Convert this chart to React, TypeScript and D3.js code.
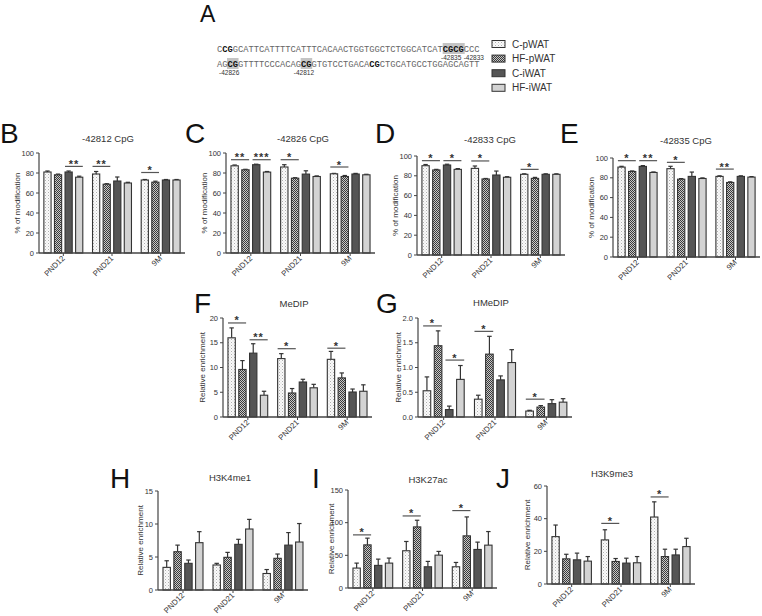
import React from "react";
import * as d3 from "d3";

const groups = ["PND12", "PND21", "9M"];
const seriesNames = ["C-pWAT", "HF-pWAT", "C-iWAT", "HF-iWAT"];

// -42812 CpG
const b42812Mean = [[81, 78.2, 81, 75.8], [79, 68.8, 72, 70], [73, 70.8, 73, 73]];
const b42812Err = [[1, 0.7, 1, 1], [2.5, 0.5, 4, 0.7], [0.5, 1, 0.5, 0.5]];
// -42826 CpG
const c42826Mean = [[87.2, 83.2, 88.3, 80.9], [86, 74.8, 78.9, 76.5], [79.2, 76.5, 79, 78.2]];
const c42826Err = [[0.8, 0.5, 0.5, 0.6], [2.3, 0.5, 3.3, 0.6], [0.4, 1, 0.6, 0.5]];
// -42833 CpG
const d42833Mean = [[90.2, 85.9, 90.9, 86.5], [87.5, 76.8, 80.8, 78.5], [81.5, 77.4, 81.5, 81.5]];
const d42833Err = [[1.2, 0.6, 0.8, 0.8], [2.4, 0.5, 4, 0.6], [0.5, 1, 0.5, 0.5]];
// -42835 CpG
const e42835Mean = [[90.8, 86.4, 91.5, 85.4], [89.2, 78.6, 81.4, 79.3], [81.4, 75.3, 81.4, 80.7]];
const e42835Err = [[0.8, 0.5, 0.8, 0.5], [2.4, 0.6, 4.4, 0.6], [0.6, 0.6, 0.6, 0.5]];
// MeDIP
const fMedipMean = [[16, 9.6, 12.9, 4.4], [11.8, 4.85, 7.07, 5.9], [11.65, 7.9, 5.05, 5.2]];
const fMedipErr = [[2.0, 1.8, 1.9, 0.8], [1.0, 0.9, 0.55, 0.7], [1.6, 1.0, 0.6, 1.3]];
// HMeDIP
const gHmedipMean = [[0.53, 1.44, 0.15, 0.76], [0.36, 1.27, 0.75, 1.1], [0.12, 0.2, 0.27, 0.3]];
const gHmedipErr = [[0.28, 0.3, 0.07, 0.28], [0.08, 0.36, 0.08, 0.26], [0.015, 0.03, 0.08, 0.07]];
// H3K4me1
const hK4me1Mean = [[3.43, 5.8, 4.04, 7.17], [3.79, 4.95, 6.92, 9.24], [2.5, 4.8, 6.8, 7.27]];
const hK4me1Err = [[1.0, 1.0, 0.5, 1.67], [0.25, 0.75, 0.76, 1.46], [0.6, 0.65, 1.9, 2.8]];
// H3K27ac
const iK27acMean = [[30.5, 66, 34.6, 38.1], [57, 93.5, 32.5, 50.3], [32.5, 79.8, 59, 65.6]];
const iK27acErr = [[7.6, 10.3, 9.6, 7.7], [14.2, 10.2, 8.2, 5.7], [6.6, 29, 11.2, 20.8]];
// H3K9me3
const jK9me3Mean = [[29, 15.4, 14.8, 14], [27, 13.8, 12.8, 13], [41, 16.8, 17.8, 22.9]];
const jK9me3Err = [[7.1, 2.8, 4.1, 2.8], [6.2, 1.8, 3, 3.8], [9.3, 4.5, 3.5, 5.1]];

type Sig = { g: number; a: number; b: number; y: number; label: string };
const bSig: Sig[] = [
  { g: 0, a: 2, b: 3, y: 86.6, label: "**" },
  { g: 1, a: 0, b: 1, y: 86.6, label: "**" },
  { g: 2, a: 0, b: 1, y: 80.5, label: "*" },
];
const cSig: Sig[] = [
  { g: 0, a: 0, b: 1, y: 93.3, label: "**" },
  { g: 0, a: 2, b: 3, y: 93.3, label: "***" },
  { g: 1, a: 0, b: 1, y: 93.3, label: "*" },
  { g: 2, a: 0, b: 1, y: 86, label: "*" },
];
const dSig: Sig[] = [
  { g: 0, a: 0, b: 1, y: 95.3, label: "*" },
  { g: 0, a: 2, b: 3, y: 95.3, label: "*" },
  { g: 1, a: 0, b: 1, y: 95, label: "*" },
  { g: 2, a: 0, b: 1, y: 86.5, label: "*" },
];
const eSig: Sig[] = [
  { g: 0, a: 0, b: 1, y: 97.3, label: "*" },
  { g: 0, a: 2, b: 3, y: 97.3, label: "**" },
  { g: 1, a: 0, b: 1, y: 95.6, label: "*" },
  { g: 2, a: 0, b: 1, y: 88.8, label: "**" },
];
const fSig: Sig[] = [
  { g: 0, a: 0, b: 1, y: 19.0, label: "*" },
  { g: 0, a: 2, b: 3, y: 15.6, label: "**" },
  { g: 1, a: 0, b: 1, y: 13.8, label: "*" },
  { g: 2, a: 0, b: 1, y: 13.9, label: "*" },
];
const gSig: Sig[] = [
  { g: 0, a: 0, b: 1, y: 1.84, label: "*" },
  { g: 0, a: 2, b: 3, y: 1.15, label: "*" },
  { g: 1, a: 0, b: 1, y: 1.73, label: "*" },
  { g: 2, a: 0, b: 1, y: 0.36, label: "*" },
];
const hSig: Sig[] = [];
const iSig: Sig[] = [
  { g: 0, a: 0, b: 1, y: 81.3, label: "*" },
  { g: 1, a: 0, b: 1, y: 110.3, label: "*" },
  { g: 2, a: 0, b: 1, y: 118.5, label: "*" },
];
const jSig: Sig[] = [
  { g: 1, a: 0, b: 1, y: 37.1, label: "*" },
  { g: 2, a: 0, b: 1, y: 53.3, label: "*" },
];

const ticksPct = [0, 20, 40, 60, 80, 100];
const ticksF = [0, 5, 10, 15, 20];
const ticksG = [0, 0.5, 1.0, 1.5, 2.0];
const ticksH = [0, 5, 10, 15];
const ticksI = [0, 50, 100, 150];
const ticksJ = [0, 20, 40, 60];

const seqLine1 = "CCGGCATTCATTTTCATTTCACAACTGGTGGCTCTGGCATCATCGCGCCC";
const seqLine2 = "AGCGGTTTTCCCACAGCGGTGTCCTGACACGCTGCATGCCTGGAGCAGTT";
const bold1 = [[1, 2], [43, 46]];
const bold2 = [[2, 3], [16, 17], [29, 30]];
const hl1 = [[43, 46]];
const hl2 = [[2, 3], [16, 17]];
const seqLabels = [
  { line: 0, start: 42.6, text: "-42835" },
  { line: 0, start: 46.9, text: "-42833" },
  { line: 1, start: 0.4, text: "-42826" },
  { line: 1, start: 14.6, text: "-42812" },
];

const fills = ["url(#pDots)", "url(#pCheck)", "#555555", "#d3d3d3"];
const FONT = "Liberation Sans, Arial, sans-serif";
const INK = "#333";

type Panel = {
  letter: string; lx: number; ly: number;
  title: string; tx: number; ty: number;
  x0: number; x1: number; yTop: number; yBot: number;
  ticks: number[]; fmt: (v: number) => string;
  yTitle: string; ytx: number;
  mean: number[][]; err: number[][]; sig: Sig[];
};

const intFmt = (v: number) => d3.format("d")(v);
const decFmt = (v: number) => d3.format(".1f")(v);

const panels: Panel[] = [
  { letter: "B", lx: 0, ly: 143, title: "-42812 CpG", tx: 108, ty: 142, x0: 39, x1: 185, yTop: 153, yBot: 253, ticks: ticksPct, fmt: intFmt, yTitle: "% of modification", ytx: 17, mean: b42812Mean, err: b42812Err, sig: bSig },
  { letter: "C", lx: 185, ly: 143, title: "-42826 CpG", tx: 303, ty: 142, x0: 226, x1: 375, yTop: 153, yBot: 253, ticks: ticksPct, fmt: intFmt, yTitle: "% of modification", ytx: 204, mean: c42826Mean, err: c42826Err, sig: cSig },
  { letter: "D", lx: 375, ly: 143, title: "-42833 CpG", tx: 490, ty: 143, x0: 417, x1: 565, yTop: 156, yBot: 255, ticks: ticksPct, fmt: intFmt, yTitle: "% of modification", ytx: 395, mean: d42833Mean, err: d42833Err, sig: dSig },
  { letter: "E", lx: 560, ly: 143, title: "-42835 CpG", tx: 686, ty: 144, x0: 613, x1: 760, yTop: 158, yBot: 257, ticks: ticksPct, fmt: intFmt, yTitle: "% of modification", ytx: 591, mean: e42835Mean, err: e42835Err, sig: eSig },
  { letter: "F", lx: 194, ly: 313, title: "MeDIP", tx: 294, ty: 307, x0: 223, x1: 372, yTop: 318, yBot: 417, ticks: ticksF, fmt: intFmt, yTitle: "Relative enrichment", ytx: 202, mean: fMedipMean, err: fMedipErr, sig: fSig },
  { letter: "G", lx: 376, ly: 313, title: "HMeDIP", tx: 491, ty: 306, x0: 418, x1: 572, yTop: 318, yBot: 417, ticks: ticksG, fmt: decFmt, yTitle: "Relative enrichment", ytx: 398, mean: gHmedipMean, err: gHmedipErr, sig: gSig },
  { letter: "H", lx: 110, ly: 488, title: "H3K4me1", tx: 230, ty: 481, x0: 158, x1: 308, yTop: 491, yBot: 590, ticks: ticksH, fmt: intFmt, yTitle: "Relative enrichment", ytx: 140, mean: hK4me1Mean, err: hK4me1Err, sig: hSig },
  { letter: "I", lx: 312, ly: 488, title: "H3K27ac", tx: 428, ty: 483, x0: 348, x1: 497, yTop: 490, yBot: 588, ticks: ticksI, fmt: intFmt, yTitle: "Relative enrichment", ytx: 331, mean: iK27acMean, err: iK27acErr, sig: iSig },
  { letter: "J", lx: 496, ly: 488, title: "H3K9me3", tx: 612, ty: 477, x0: 547, x1: 695, yTop: 486, yBot: 584, ticks: ticksJ, fmt: intFmt, yTitle: "Relative enrichment", ytx: 527, mean: jK9me3Mean, err: jK9me3Err, sig: jSig },
];

function BarPanel({ p }: { p: Panel }) {
  const yMax = p.ticks[p.ticks.length - 1];
  const y = d3.scaleLinear().domain([0, yMax]).range([p.yBot, p.yTop]);
  const xg = d3.scaleBand<string>().domain(groups).range([p.x0, p.x1]).paddingInner(0.2).paddingOuter(0.1);
  const xs = d3.scaleBand<string>().domain(seriesNames).range([0, xg.bandwidth()]).paddingInner(0.32);
  const bw = xs.bandwidth();
  return (
    <g>
      <text x={p.lx} y={p.ly} fontSize={28} fontFamily={FONT} fill="#111">{p.letter}</text>
      <text x={p.tx} y={p.ty} fontSize={9.5} fontFamily={FONT} fill={INK} textAnchor="middle">{p.title}</text>
      <g transform={`translate(${p.ytx + 3},${(p.yTop + p.yBot) / 2}) rotate(-90)`}>
        <text x={0} y={0} fontSize={8} fontFamily={FONT} fill={INK} textAnchor="middle">{p.yTitle}</text>
      </g>
      {groups.map((g, gi) =>
        seriesNames.map((s, si) => {
          const bx = (xg(g) as number) + (xs(s) as number);
          const v = p.mean[gi][si];
          const e = p.err[gi][si];
          const cx = bx + bw / 2;
          return (
            <g key={g + s}>
              <line x1={cx} x2={cx} y1={y(v)} y2={y(v + e)} stroke={INK} strokeWidth={1.2} />
              <line x1={cx - bw * 0.3} x2={cx + bw * 0.3} y1={y(v + e)} y2={y(v + e)} stroke={INK} strokeWidth={1.2} />
              <rect x={bx} y={y(v)} width={bw} height={p.yBot - y(v)} fill={fills[si]} stroke={INK} strokeWidth={1.1} />
            </g>
          );
        })
      )}
      {p.sig.map((sg, i) => {
        const g = groups[sg.g];
        const xa = (xg(g) as number) + (xs(seriesNames[sg.a]) as number);
        const xb = (xg(g) as number) + (xs(seriesNames[sg.b]) as number) + bw;
        return (
          <g key={"s" + i}>
            <line x1={xa} x2={xb} y1={y(sg.y)} y2={y(sg.y)} stroke="#555" strokeWidth={1.2} />
            <text x={(xa + xb) / 2} y={y(sg.y) + 1.5} fontSize={11} fontWeight="bold" fontFamily={FONT} fill={INK} textAnchor="middle" letterSpacing={1}>{sg.label}</text>
          </g>
        );
      })}
      <line x1={p.x0} x2={p.x0} y1={p.yTop} y2={p.yBot} stroke="#444" strokeWidth={1.2} />
      <line x1={p.x0} x2={p.x1} y1={p.yBot} y2={p.yBot} stroke="#444" strokeWidth={1.4} />
      {p.ticks.map((t) => (
        <g key={"t" + t}>
          <line x1={p.x0 - 3} x2={p.x0} y1={y(t)} y2={y(t)} stroke="#444" strokeWidth={1} />
          <text x={p.x0 - 5} y={y(t)} dy="0.35em" fontSize={7.5} fontFamily={FONT} fill={INK} textAnchor="end">{p.fmt(t)}</text>
        </g>
      ))}
      {groups.map((g) => {
        const cx = (xg(g) as number) + xg.bandwidth() / 2;
        return (
          <g key={"x" + g}>
            <line x1={cx} x2={cx} y1={p.yBot} y2={p.yBot + 3} stroke="#444" strokeWidth={1} />
            <g transform={`translate(${cx - 2},${p.yBot + 2}) rotate(-45)`}>
              <text x={0} y={0} dy="0.7em" fontSize={7.8} fontFamily={FONT} fill={INK} textAnchor="end">{g}</text>
            </g>
          </g>
        );
      })}
    </g>
  );
}

function SeqLine({ seq, bold, hl, x, yBase, cw }: { seq: string; bold: number[][]; hl: number[][]; x: number; yBase: number; cw: number }) {
  const isBold = (i: number) => bold.some(([a, b]) => i >= a && i <= b);
  const segs: { t: string; b: boolean }[] = [];
  for (let i = 0; i < seq.length; i++) {
    const b = isBold(i);
    if (segs.length && segs[segs.length - 1].b === b) segs[segs.length - 1].t += seq[i];
    else segs.push({ t: seq[i], b });
  }
  return (
    <g>
      {hl.map(([a, b], i) => (
        <rect key={i} x={x + a * cw - 0.5} y={yBase - 9} width={(b - a + 1) * cw + 1} height={11} fill="#c4c4c4" />
      ))}
      <text x={x} y={yBase} fontSize={cw / 0.6} fontFamily="Liberation Mono, Courier New, monospace" fill="#555" xmlSpace="preserve">
        {segs.map((s, i) => (
          <tspan key={i} fontWeight={s.b ? "bold" : "normal"} fill={s.b ? "#111" : "#666"}>{s.t}</tspan>
        ))}
      </text>
    </g>
  );
}

export default function App() {
  const cw = 5.26;
  const sx = 217;
  const lineY = [52, 67];
  return (
    <svg width={762} height={616} style={{ position: "absolute", left: 0, top: 0, background: "#fff" }}>
      <defs>
        <pattern id="pDots" width={3} height={3} patternUnits="userSpaceOnUse">
          <rect width={3} height={3} fill="#fafafa" />
          <rect x={0} y={0} width={1} height={1} fill="#b0b0b0" />
          <rect x={1.5} y={1.5} width={1} height={1} fill="#d0d0d0" />
        </pattern>
        <pattern id="pCheck" width={2} height={2} patternUnits="userSpaceOnUse">
          <rect width={2} height={2} fill="#c8c8c8" />
          <rect x={0} y={0} width={1} height={1} fill="#3a3a3a" />
          <rect x={1} y={1} width={1} height={1} fill="#3a3a3a" />
        </pattern>
      </defs>
      <text x={200} y={22} fontSize={23} fontFamily={FONT} fill="#111">A</text>
      <SeqLine seq={seqLine1} bold={bold1} hl={hl1} x={sx} yBase={lineY[0]} cw={cw} />
      <SeqLine seq={seqLine2} bold={bold2} hl={hl2} x={sx} yBase={lineY[1]} cw={cw} />
      {seqLabels.map((l, i) => (
        <text key={i} x={sx + l.start * cw} y={lineY[l.line] + 7.5} fontSize={6.5} fontFamily={FONT} fill="#333">{l.text}</text>
      ))}
      {seriesNames.map((s, i) => (
        <g key={s}>
          <rect x={492} y={40.5 + i * 14.6} width={13} height={7} fill={fills[i]} stroke={INK} strokeWidth={1} />
          <text x={512} y={47.5 + i * 14.6} fontSize={10} fontFamily={FONT} fill={INK}>{s}</text>
        </g>
      ))}
      {panels.map((p) => <BarPanel key={p.letter} p={p} />)}
    </svg>
  );
}
